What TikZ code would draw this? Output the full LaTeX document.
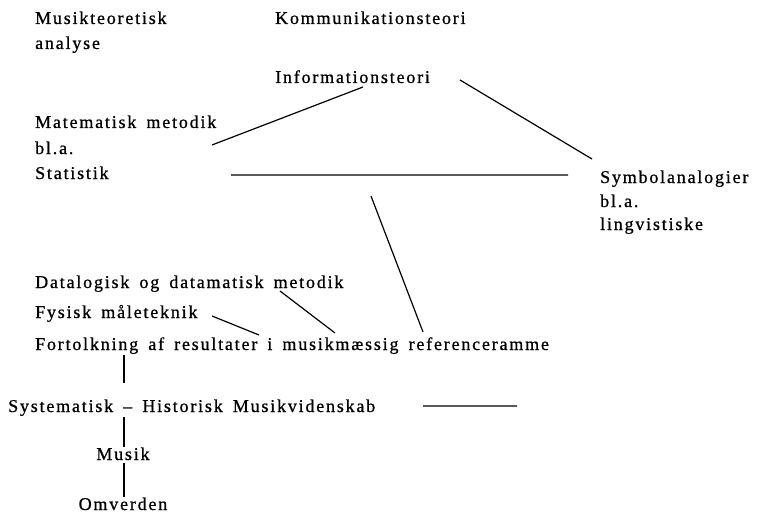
\documentclass[tikz,border=0pt]{standalone}
\usepackage{fontspec}
\setmainfont{Liberation Serif}[LetterSpace=10, WordSpace=1.6, FakeBold=0.8]
\begin{document}
\begin{tikzpicture}[x=1pt, y=-1pt,
		lbl/.style = {anchor=base west, inner sep=0pt, font=\fontsize{18}{20}\selectfont},
		mid/.style = {lbl, anchor=base},
		lnk/.style = {line width=1.2pt}]
				\useasboundingbox (0,0) rectangle (773,516);

				\node[lbl] (mta) at (35,24) {Musikteoretisk};
				\node[lbl] (ana) at (35,49) {analyse};
				\node[lbl] (kom) at (275,24) {Kommunikationsteori};
				\node[lbl] (inf) at (275,83) {Informationsteori};
				\node[lbl] (mat) at (35,128) {Matematisk metodik};
				\node[lbl] (bla) at (35,154) {bl.a.};
				\node[lbl] (sta) at (35,179) {Statistik};
				\node[lbl] (sym) at (600,183) {Symbolanalogier};
				\node[lbl] (blb) at (600,207) {bl.a.};
				\node[lbl] (lin) at (600,230) {lingvistiske};
				\node[lbl] (dat) at (35,288) {Datalogisk og datamatisk metodik};
				\node[lbl] (fys) at (35,318) {Fysisk måleteknik};
				\node[lbl] (fort) at (35,350) {Fortolkning af resultater i musikmæssig referenceramme};
				\node[lbl] (sys) at (8,412) {Systematisk -- Historisk Musikvidenskab};
				\node[mid] (mus) at (123,460) {Musik};
				\node[mid] (omv) at (123,510) {Omverden};

				\coordinate (i1) at (363,87);
				\coordinate (i2) at (212,145);
				\coordinate (i3) at (460,80);
				\coordinate (i4) at (592,159);
				\coordinate (h1) at (231,175);
				\coordinate (h2) at (568,175);
				\coordinate (r1) at (371,196);
				\coordinate (r2) at (423,332);
				\coordinate (f1) at (212,316);
				\coordinate (f2) at (259,335);
				\coordinate (d1) at (280,291);
				\coordinate (d2) at (335,333);
				\coordinate (s1) at (423,406);
				\coordinate (s2) at (517,406);

				\draw[lnk] (i1) to (i2)
				(i3) to (i4)
				(h1) to (h2)
				(r1) to (r2)
				(f1) to (f2)
				(d1) to (d2)
				(s1) to (s2);
				\draw[lnk] (fort.south -| 124,0) ++(0,1) -- (124,383)
				(124,417) -- (mus.north -| 124,0) ++(0,-3)
				(mus.south -| 124,0) ++(0,3) -- (omv.north -| 124,0) ++(0,-3);
			\end{tikzpicture}
\end{document}
